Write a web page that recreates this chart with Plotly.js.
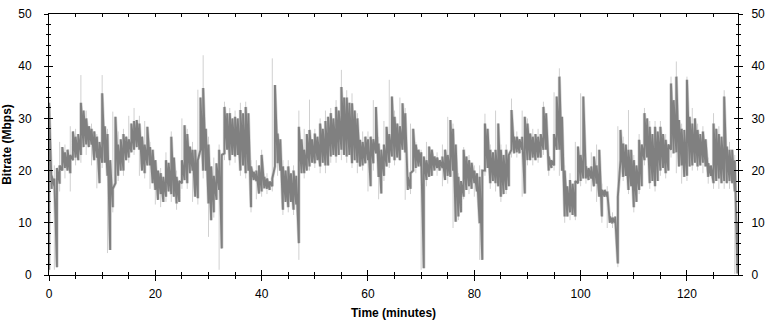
<!DOCTYPE html>
<html>
<head>
<meta charset="utf-8">
<script src="https://cdn.plot.ly/plotly-3.0.1.min.js"></script>
<style>
html,body{margin:0;padding:0;background:#fff;}
#chart{width:770px;height:325px;}
</style>
</head>
<body>
<div id="chart"></div>
<script>
// Sampling interval of the dark (averaged) series, in minutes
const darkStepMin = 0.5;
// Dark series: low / high of each 0.5-minute sample (Mbps), starting at t = 0
const darkLo = [
1,16.5,17,1.5,17.5,20,20.5,20,19.5,22, 22.5,22,23,24.5,25,24.5,25,22,22.5,17.6,
21.5,21.5,19,4.8,13,17.6,19,20,20,22, 22.5,23.5,24,24.5,24,20,19.5,21,21,17.6,
16.3,14.4,15.5,14,15,16,15.5,15,13.7,14, 17.6,18.2,17.6,19.5,20,15,14.7,24,20,20,
13.7,10.5,12,14.4,16.3,5.1,23.3,24,22,23, 22.7,23,20,21,19.5,20,13,18.2,18,15.6,
16,16.6,16.5,16.3,17,20.8,21.4,20,12.5,14, 13,14,12.5,13.5,6.1,19.5,19.5,20,20.8,21.5,
21.4,22,20.8,21.5,21,21,22.7,23,22.7,23, 24,23,22.7,23,21.4,22,21.5,20.8,21,21.4,
22,17,21.4,23.3,18.8,15.6,19,20.8,21.5,22.7, 22,22.5,22,24,23.5,16.3,16.5,20,20.5,20.8,
20.8,1.3,18.2,18.8,19,20,20.5,20,20.5,18.2, 19,18.8,20,10.2,11.2,12,15,16.3,17,16.5,
17.6,16,9.9,2.9,20,20.5,17.6,18,17.6,17, 15,15.5,16.3,17,24,23.3,23.5,23.3,24,15.6,
22,22,22.5,22,22.5,22.5,24,24,20,20.5, 21,24,24,20,11.2,11.2,12,11.5,11.2,17.6,
18,18.5,18.5,18.2,18.5,17,17.5,15,11.2,15, 15,10,9.9,10,2.2,22,18.8,19,16.3,17,
13,14,16.3,17,22,22.5,17.6,18,17,18, 20,20.5,19.5,20,24,23.3,23.5,20.8,21,18.8,
19,20.8,21,21.5,20.8,21,21.5,20.8,18.8,19, 17.6,18,18.5,17.6,18,17.6,18,17.6,16,0.3
];
const darkHi = [
33,19,18.5,20.5,21,24.5,23.5,24,23,27.5, 26.5,27,33,31.5,30,28.5,28,27.5,26.5,25.5,
34.8,28.5,27,22,16.5,30.3,25,26,27,26.5, 26,29,29.5,29.7,29,26.5,25,28.4,24.5,24,
22,20,19.5,18.8,22,21.5,26.5,22.5,18.8,18, 22,28.7,27,24.6,24,24,22,34,35.8,28,
25,20.8,19,21.4,24,23,32.2,31,31,30, 30.3,30,31.6,31,32.2,31,20.8,19.8,20,21,
23,18.8,18.5,17.9,18.5,36.4,27.1,26,20.8,20, 20.8,19.5,20,19,28.4,26,24,27,27.8,26,
27.1,26.5,29,28,29.5,30.3,31,30,32.2,31.5, 36,34,34,33,32.9,31.5,30,25.9,25.5,26.5,
26,26.5,26,32.2,25.2,24,25,28.4,27,34.2, 30.3,29,28.5,32.9,31,18.8,19.5,28,25,24,
23.5,22.7,22,24.6,24,22.7,22.5,22,22.7,24, 23,29.7,28,25,18.8,18,24,22.7,22,21.5,
20,19.5,18.8,20,29,28,24,23.5,24,29, 24,23,24,23,31.6,26.5,26.5,26,26.5,30.3,
29,27.1,26.5,27,26.5,27,32.2,31,22.7,22, 27,34.2,38,30.3,20,17,18.2,17.5,18,24.6,
23,34.2,20.8,20.5,20.8,22.7,21,24,16.3,16.3, 16,11.2,11,11.2,15,27.8,25.2,25,24,24,
22,21,25.9,25,31,30,28.4,27,28.4,27.5, 28.4,27,25.9,25,36.7,33.5,38,29.7,28,27.8,
37.4,30.3,29,30,27.8,27,27.5,26,21.4,21, 29,28,27,26.5,34.2,24.6,24,24,22,10
];
// Light (fine-grained) envelope, one low / high per minute, starting at t = 0
const lightStepMin = 1;
const lightLo = [
0.5,1,16,18.5,16,21,21.5,23,21,16.6, 20.5,4.2,12,18,19,21.5,23,19,18.5,16.5,
13.5,13,14,14,12.5,16.5,16.5,14,13.5,18.5, 7.3,11,1,22,21,21.5,19,18.5,12,14.5,
15,15.5,16,19,11.5,12,11.5,2.9,18.5,20, 20.5,19.5,19.5,21.5,21.5,22,21.5,20.5,19.5,20,
16,20,14.5,18,20.5,21,22.5,14.4,15.5,19.5, 1,17,19,19,17,17.5,9,10.5,14.5,15.5,
15,2.9,19,16.5,16,14,15.5,22.5,22.5,15, 21,21,21.5,23,19,20,19,10,10.5,10.5,
17,17.5,16,14,10,9,9,1.5,18,15.5, 12,15.5,21,16.5,16,19,18.5,22.5,19.5,17.5,
18,20,20,19.5,17.5,16.5,16.5,16.5,16.5,0.2
];
const lightHi = [
35,21,25.5,25,28.5,28,38.3,31.5,29,27, 38.3,28,31.3,27.5,28,30.5,32,30.5,29.5,25.5,
21.5,20.5,23.5,27.5,20,30,28,25.5,35.5,42.1, 26.5,22.5,25,33.2,32,31.5,33,33.2,22,22,
24,19.5,41.5,28,22,22,21,31.5,28,33.6, 28,30,31.5,32,33.5,39.3,35.4,34.8,31,27.5,
27.5,33.5,26.5,29.5,37.4,31.5,34,32,29,25.5, 24,25.5,24,23.5,25,30.3,29,19.5,24.5,23,
21,21,30.9,25,31.5,25,25,33.8,27.5,31.5, 30,28,28,33.2,23.5,35,39.6,21,19.5,25.5,
34.8,21.5,23.5,25,17.5,17,12,28.5,26.5,31.6, 23,27,32,29.5,29.5,29.5,27,38,40.9,29,
38,32,29,28.5,22.5,31,28.5,35.4,25.5,23
];
// Axis ticks
const xTicks = [0,20,40,60,80,100,120];
const yTicks = [0,10,20,30,40,50];

// continuous low/high zigzag through the samples
function zigzag(step, lo, hi){
  const x = [], y = [];
  for (let i = 0; i < lo.length; i++){
    const t = i*step;
    x.push(t, t); y.push(lo[i], hi[i]);
  }
  return {x, y};
}
// separate vertical low-high strokes, one per sample
function strokes(step, lo, hi){
  const x = [], y = [];
  for (let i = 0; i < lo.length; i++){
    const t = i*step;
    x.push(t, t, null); y.push(lo[i], hi[i], null);
  }
  return {x, y};
}
const L = strokes(lightStepMin, lightLo, lightHi);
const D = zigzag(darkStepMin, darkLo, darkHi);

const font = {family:'"Liberation Sans", Arial, sans-serif', size:12, color:'#000'};
const XR = [0, 129.6], YR = [0, 50];

const traces = [
  {x:L.x, y:L.y, type:'scatter', mode:'lines', line:{color:'#d0d0d0', width:1}, connectgaps:false, hoverinfo:'skip', showlegend:false},
  {x:D.x, y:D.y, type:'scatter', mode:'lines', line:{color:'#d2d2d2', width:3.2}, hoverinfo:'skip', showlegend:false},
  {x:D.x, y:D.y, type:'scatter', mode:'lines', line:{color:'#808080', width:1.9}, hoverinfo:'skip', showlegend:false},
  {x:[], y:[], xaxis:'x2', yaxis:'y2', type:'scatter', showlegend:false},
  {x:[], y:[], xaxis:'x3', yaxis:'y3', type:'scatter', showlegend:false},
  {x:[], y:[], xaxis:'x2', yaxis:'y4', type:'scatter', showlegend:false}
];

const common = {showgrid:false, zeroline:false, tickcolor:'#000', tickwidth:1, fixedrange:true, tickfont:font};
const layout = {
  width:770, height:325,
  margin:{l:49, r:32, t:14, b:50, pad:0},
  paper_bgcolor:'#fff', plot_bgcolor:'#fff',
  showlegend:false,
  font:font,
  xaxis: Object.assign({}, common, {
    range:XR, tickmode:'array', tickvals:xTicks, ticktext:xTicks.map(String),
    ticks:'outside', ticklen:5, showline:true, linecolor:'#000', linewidth:1,
    minor:{ticks:'outside', dtick:5, tick0:0, ticklen:3, tickcolor:'#000', showgrid:false},
    ticklabelstandoff:3,
    title:{text:'Time (minutes)', font:Object.assign({}, font, {weight:'bold'}), standoff:8}
  }),
  xaxis2: Object.assign({}, common, {
    range:XR, overlaying:'x', side:'bottom', anchor:'y',
    tickmode:'array', tickvals:xTicks, ticks:'inside', ticklen:5, showticklabels:false, showline:false,
    minor:{ticks:'inside', dtick:5, tick0:0, ticklen:3, tickcolor:'#000', showgrid:false}
  }),
  xaxis3: Object.assign({}, common, {
    range:XR, overlaying:'x', side:'top', anchor:'y3',
    dtick:5, tick0:0, ticks:'inside', ticklen:3, showticklabels:false, showline:true, linecolor:'#000', linewidth:1
  }),
  yaxis: Object.assign({}, common, {
    range:YR, tickmode:'array', tickvals:yTicks, ticktext:yTicks.map(String),
    ticks:'outside', ticklen:4, showline:true, linecolor:'#000', linewidth:1,
    minor:{ticks:'outside', dtick:2, tick0:0, ticklen:2, tickcolor:'#000', showgrid:false},
    ticklabelstandoff:10,
    title:{text:'Bitrate (Mbps)', font:Object.assign({}, font, {weight:'bold'}), standoff:8}
  }),
  yaxis2: Object.assign({}, common, {
    range:YR, overlaying:'y', side:'left', anchor:'x2',
    tickmode:'array', tickvals:yTicks, ticks:'inside', ticklen:4, showticklabels:false, showline:false,
    minor:{ticks:'inside', dtick:2, tick0:0, ticklen:2, tickcolor:'#000', showgrid:false}
  }),
  yaxis3: Object.assign({}, common, {
    range:YR, overlaying:'y', side:'right', anchor:'x3',
    tickmode:'array', tickvals:yTicks, ticktext:yTicks.map(String),
    ticks:'outside', ticklen:4, showline:true, linecolor:'#000', linewidth:1,
    minor:{ticks:'outside', dtick:2, tick0:0, ticklen:2, tickcolor:'#000', showgrid:false},
    ticklabelstandoff:6
  }),
  yaxis4: Object.assign({}, common, {
    range:YR, overlaying:'y', side:'right', anchor:'free', position:1,
    tickmode:'array', tickvals:yTicks, ticks:'inside', ticklen:4, showticklabels:false, showline:false,
    minor:{ticks:'inside', dtick:2, tick0:0, ticklen:2, tickcolor:'#000', showgrid:false}
  })
};

Plotly.newPlot('chart', traces, layout, {staticPlot:true, displayModeBar:false});
</script>
</body>
</html>
